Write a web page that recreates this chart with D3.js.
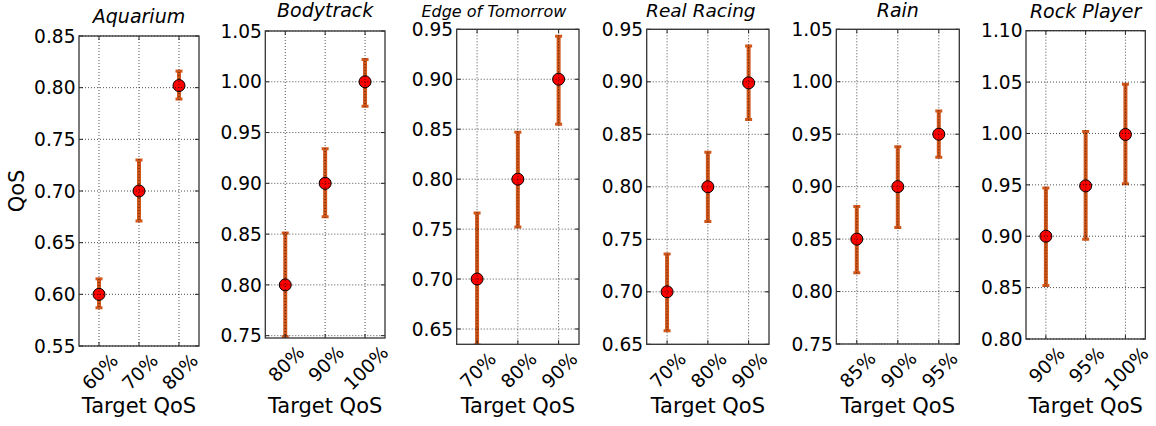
<!DOCTYPE html>
<html>
<head>
<meta charset="utf-8">
<script src="https://cdn.jsdelivr.net/npm/d3@7"></script>
<style>
  body { margin: 0; background: #fff; }
  text { font-family: "DejaVu Sans", sans-serif; fill: #000; }
</style>
</head>
<body>
<div id="chart"></div>
<script>
// Data
const titles = ["Aquarium", "Bodytrack", "Edge of Tomorrow", "Real Racing", "Rain", "Rock Player"];
const targets = [
    ["60%", "70%", "80%"],
    ["80%", "90%", "100%"],
    ["70%", "80%", "90%"],
    ["70%", "80%", "90%"],
    ["85%", "90%", "95%"],
    ["90%", "95%", "100%"]
];
const means = [
    [0.600, 0.700, 0.802],
    [0.800, 0.900, 1.000],
    [0.700, 0.800, 0.900],
    [0.700, 0.800, 0.899],
    [0.850, 0.900, 0.950],
    [0.900, 0.949, 0.999]
];
const lowers = [
    [0.587, 0.671, 0.789],
    [0.749, 0.867, 0.976],
    [0.634, 0.752, 0.855],
    [0.663, 0.767, 0.864],
    [0.818, 0.861, 0.928],
    [0.852, 0.897, 0.951]
];
const uppers = [
    [0.615, 0.730, 0.816],
    [0.851, 0.934, 1.022],
    [0.766, 0.847, 0.943],
    [0.736, 0.833, 0.934],
    [0.881, 0.938, 0.972],
    [0.947, 1.002, 1.048]
];
const yDomains = [
    [0.55, 0.85],
    [0.7477, 1.05],
    [0.6347, 0.95],
    [0.65, 0.95],
    [0.75, 1.05],
    [0.80, 1.10]
];
const yTicks = [
    [0.55, 0.60, 0.65, 0.70, 0.75, 0.80, 0.85],
    [0.75, 0.80, 0.85, 0.90, 0.95, 1.00, 1.05],
    [0.65, 0.70, 0.75, 0.80, 0.85, 0.90, 0.95],
    [0.65, 0.70, 0.75, 0.80, 0.85, 0.90, 0.95],
    [0.75, 0.80, 0.85, 0.90, 0.95, 1.00, 1.05],
    [0.80, 0.85, 0.90, 0.95, 1.00, 1.05, 1.10]
];

// Panel frames in pixels (left, right, top, bottom) and title placement
const layout = [
    { l: 79,    r: 199,    t: 36,   b: 346,   titleY: 23, titleDx: 0,   titleSize: 19 },
    { l: 265.3, r: 385,    t: 31,   b: 338,   titleY: 17, titleDx: 0,   titleSize: 19 },
    { l: 456.7, r: 579,    t: 29.3, b: 344.3, titleY: 16.5, titleDx: -24, titleSize: 16 },
    { l: 646.7, r: 769,    t: 29.3, b: 344.3, titleY: 17, titleDx: -7,  titleSize: 18.5 },
    { l: 836.3, r: 959.3,  t: 29.3, b: 344,   titleY: 17, titleDx: 0,   titleSize: 19 },
    { l: 1026,  r: 1145.3, t: 30.7, b: 339,   titleY: 17.5, titleDx: 0, titleSize: 19 }
];

const barColor = "#d0561a";

const svg = d3.select("#chart")
    .append("svg")
    .attr("width", 1156)
    .attr("height", 426);

titles.forEach(function(title, i) {
    const box = layout[i];
    const x = d3.scalePoint().domain(targets[i]).range([box.l, box.r]).padding(0.5);
    const y = d3.scaleLinear().domain(yDomains[i]).range([box.b, box.t]);

    const rows = targets[i].map((t, j) => ({ t: t, m: means[i][j], lo: lowers[i][j], hi: uppers[i][j] }));

    const g = svg.append("g");

    // clip to the axes box
    g.append("clipPath")
        .attr("id", "clip" + i)
        .append("rect")
        .attr("x", box.l).attr("y", box.t)
        .attr("width", box.r - box.l).attr("height", box.b - box.t);

    const plot = g.append("g").attr("clip-path", "url(#clip" + i + ")");

    // error bars
    plot.selectAll(".err")
        .data(rows)
        .enter().append("line")
        .attr("x1", d => x(d.t)).attr("x2", d => x(d.t))
        .attr("y1", d => y(d.lo)).attr("y2", d => y(d.hi))
        .attr("stroke", barColor)
        .attr("stroke-width", 4);

    // caps
    ["lo", "hi"].forEach(function(k) {
        plot.selectAll(".cap-" + k)
            .data(rows)
            .enter().append("line")
            .attr("x1", d => x(d.t) - 3.5).attr("x2", d => x(d.t) + 3.5)
            .attr("y1", d => y(d[k])).attr("y2", d => y(d[k]))
            .attr("stroke", barColor)
            .attr("stroke-width", 3);
    });

    // markers
    plot.selectAll(".dot")
        .data(rows)
        .enter().append("circle")
        .attr("cx", d => x(d.t))
        .attr("cy", d => y(d.m))
        .attr("r", 6)
        .attr("fill", "#ff0000")
        .attr("stroke", "#000")
        .attr("stroke-width", 1);

    // dotted grid drawn on top (classic matplotlib)
    g.selectAll(".hgrid")
        .data(yTicks[i])
        .enter().append("line")
        .attr("x1", box.l).attr("x2", box.r)
        .attr("y1", d => y(d)).attr("y2", d => y(d))
        .attr("stroke", "#000")
        .attr("stroke-width", 0.7)
        .attr("stroke-dasharray", "1,2");

    g.selectAll(".vgrid")
        .data(targets[i])
        .enter().append("line")
        .attr("x1", d => x(d)).attr("x2", d => x(d))
        .attr("y1", box.t).attr("y2", box.b)
        .attr("stroke", "#000")
        .attr("stroke-width", 0.7)
        .attr("stroke-dasharray", "1,2");

    // inward ticks on all four sides
    yTicks[i].forEach(function(v) {
        g.append("line").attr("x1", box.l).attr("x2", box.l + 4)
            .attr("y1", y(v)).attr("y2", y(v)).attr("stroke", "#222").attr("stroke-width", 1);
        g.append("line").attr("x1", box.r - 4).attr("x2", box.r)
            .attr("y1", y(v)).attr("y2", y(v)).attr("stroke", "#222").attr("stroke-width", 1);
    });
    targets[i].forEach(function(t) {
        g.append("line").attr("x1", x(t)).attr("x2", x(t))
            .attr("y1", box.b).attr("y2", box.b - 4).attr("stroke", "#222").attr("stroke-width", 1);
        g.append("line").attr("x1", x(t)).attr("x2", x(t))
            .attr("y1", box.t).attr("y2", box.t + 4).attr("stroke", "#222").attr("stroke-width", 1);
    });

    // frame
    g.append("rect")
        .attr("x", box.l).attr("y", box.t)
        .attr("width", box.r - box.l).attr("height", box.b - box.t)
        .attr("fill", "none")
        .attr("stroke", "#333")
        .attr("stroke-width", 1.3);

    // y tick labels
    g.selectAll(".ylab")
        .data(yTicks[i])
        .enter().append("text")
        .attr("x", box.l - 3.5)
        .attr("y", d => y(d))
        .attr("dy", "0.36em")
        .attr("text-anchor", "end")
        .style("font-size", "18.6px")
        .text(d3.format(".2f"));

    // x tick labels rotated 45 degrees, bbox centred on the tick
    g.selectAll(".xlab")
        .data(targets[i])
        .enter().append("text")
        .attr("text-anchor", "middle")
        .attr("dy", "0.35em")
        .style("font-size", "18.6px")
        .text(d => d)
        .each(function(d) {
            const w = this.getComputedTextLength();
            const half = (w + 12) * 0.7071 / 2;
            const cx = x(d) + 1, cy = box.b + 7 + half;
            d3.select(this)
                .attr("x", cx).attr("y", cy)
                .attr("transform", "rotate(-45," + cx + "," + cy + ")");
        });

    // x axis label
    g.append("text")
        .attr("x", (box.l + box.r) / 2)
        .attr("y", 413)
        .attr("text-anchor", "middle")
        .style("font-size", "21px")
        .text("Target QoS");

    // title
    g.append("text")
        .attr("x", (box.l + box.r) / 2 + box.titleDx)
        .attr("y", box.titleY)
        .attr("text-anchor", "middle")
        .style("font-size", box.titleSize + "px")
        .style("font-style", "italic")
        .text(title);

    // y axis label only on the first panel
    if (i === 0) {
        g.append("text")
            .attr("transform", "translate(24," + ((box.t + box.b) / 2) + ") rotate(-90)")
            .attr("text-anchor", "middle")
            .style("font-size", "21px")
            .text("QoS");
    }
});
</script>
</body>
</html>
